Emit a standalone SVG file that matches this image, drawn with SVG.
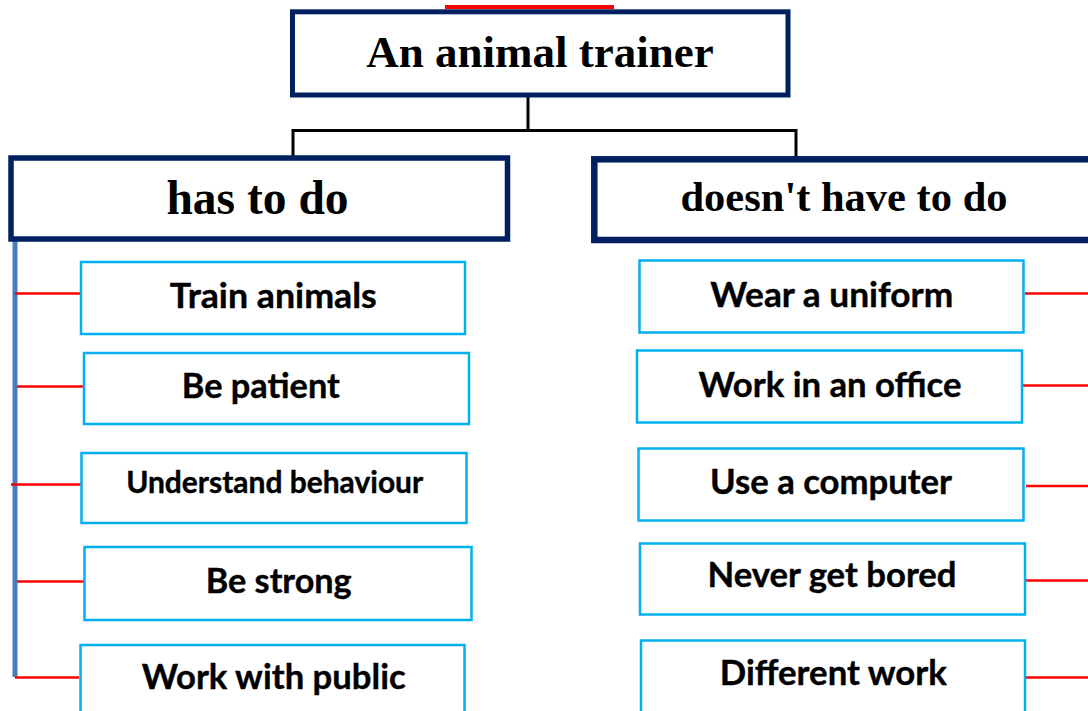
<svg xmlns="http://www.w3.org/2000/svg" width="1088" height="711" viewBox="0 0 1088 711">
<style>
.hdr{fill:#fff;stroke:#002060}
.item{fill:#fff;stroke:#00B0F0;stroke-width:2.5}
.serif{font-family:"Liberation Serif","Times New Roman",serif;font-weight:bold;fill:#000;text-anchor:middle}
.sans{font-family:Lato,"Open Sans",sans-serif;font-weight:bold;fill:#000;text-anchor:middle;font-size:35px;stroke:#000;stroke-width:0.4}
.red{stroke:#FF0000;stroke-width:2.5;fill:none}
.blk{stroke:#000;stroke-width:3;fill:none}
</style>
<rect width="1088" height="711" fill="#fff"/>
<g id="connectors">
<rect x="445" y="5" width="169" height="4" fill="#FF0000"/>
<line class="blk" x1="528" y1="97" x2="528" y2="131"/>
<polyline class="blk" points="293,157 293,130.5 796,130.5 796,160"/>
<line x1="15" y1="240" x2="15" y2="677" stroke="#4A7EBB" stroke-width="5"/>
<line class="red" x1="15" y1="293.5" x2="80" y2="293.5"/>
<line class="red" x1="17" y1="386.5" x2="83" y2="386.5"/>
<line class="red" x1="11" y1="484.5" x2="81" y2="484.5"/>
<line class="red" x1="17" y1="581.5" x2="88" y2="581.5"/>
<line class="red" x1="15" y1="677.5" x2="79" y2="677.5"/>
<line class="red" x1="1025" y1="293.5" x2="1088" y2="293.5"/>
<line class="red" x1="1023" y1="385.5" x2="1088" y2="385.5"/>
<line class="red" x1="1026" y1="486" x2="1088" y2="486"/>
<line class="red" x1="1025" y1="580.5" x2="1088" y2="580.5"/>
<line class="red" x1="1026" y1="677.5" x2="1088" y2="677.5"/>
</g>
<g id="title">
<rect class="hdr" x="292.5" y="11.8" width="495.5" height="83.2" stroke-width="5"/>
<text class="serif" x="540" y="67" font-size="45">An animal trainer</text>
</g>
<g id="has-to-do">
<rect class="hdr" x="11" y="158" width="496.5" height="81" stroke-width="5.5"/>
<text class="serif" x="257.5" y="214" font-size="47.5">has to do</text>
</g>
<g id="doesnt-have-to-do">
<rect class="hdr" x="594.3" y="159.3" width="520" height="80.7" stroke-width="6.5"/>
<text class="serif" x="844" y="211" font-size="42.5">doesn't have to do</text>
</g>
<g id="train-animals">
<rect class="item" x="81" y="262" width="384" height="72"/>
<text class="sans" x="273.3" y="308.3" textLength="207" lengthAdjust="spacingAndGlyphs">Train animals</text>
</g>
<g id="be-patient">
<rect class="item" x="84" y="353" width="385" height="71"/>
<text class="sans" x="260.8" y="398.3" textLength="158" lengthAdjust="spacingAndGlyphs">Be patient</text>
</g>
<g id="understand-behaviour">
<rect class="item" x="81.5" y="453" width="385" height="70"/>
<text class="sans" x="274.7" y="493.3" textLength="297" lengthAdjust="spacingAndGlyphs" style="font-size:29.5px">Understand behaviour</text>
</g>
<g id="be-strong">
<rect class="item" x="84.5" y="547" width="387" height="73"/>
<text class="sans" x="278.7" y="592.7" textLength="146" lengthAdjust="spacingAndGlyphs">Be strong</text>
</g>
<g id="work-with-public">
<rect class="item" x="80.5" y="645" width="384" height="80"/>
<text class="sans" x="273.7" y="689.3" textLength="264" lengthAdjust="spacingAndGlyphs">Work with public</text>
</g>
<g id="wear-a-uniform">
<rect class="item" x="639.5" y="260.5" width="384" height="72"/>
<text class="sans" x="831.7" y="306.7" textLength="243" lengthAdjust="spacingAndGlyphs">Wear a uniform</text>
</g>
<g id="work-in-an-office">
<rect class="item" x="637" y="350.5" width="385" height="72"/>
<text class="sans" x="830" y="396.7" textLength="263" lengthAdjust="spacingAndGlyphs">Work in an office</text>
</g>
<g id="use-a-computer">
<rect class="item" x="638.5" y="448.5" width="385" height="72"/>
<text class="sans" x="831" y="494" textLength="242" lengthAdjust="spacingAndGlyphs">Use a computer</text>
</g>
<g id="never-get-bored">
<rect class="item" x="640" y="543.5" width="385" height="71"/>
<text class="sans" x="832" y="587.3" textLength="249" lengthAdjust="spacingAndGlyphs">Never get bored</text>
</g>
<g id="different-work">
<rect class="item" x="641" y="640.5" width="384" height="80"/>
<text class="sans" x="833.3" y="685" textLength="227" lengthAdjust="spacingAndGlyphs">Different work</text>
</g>
</svg>
